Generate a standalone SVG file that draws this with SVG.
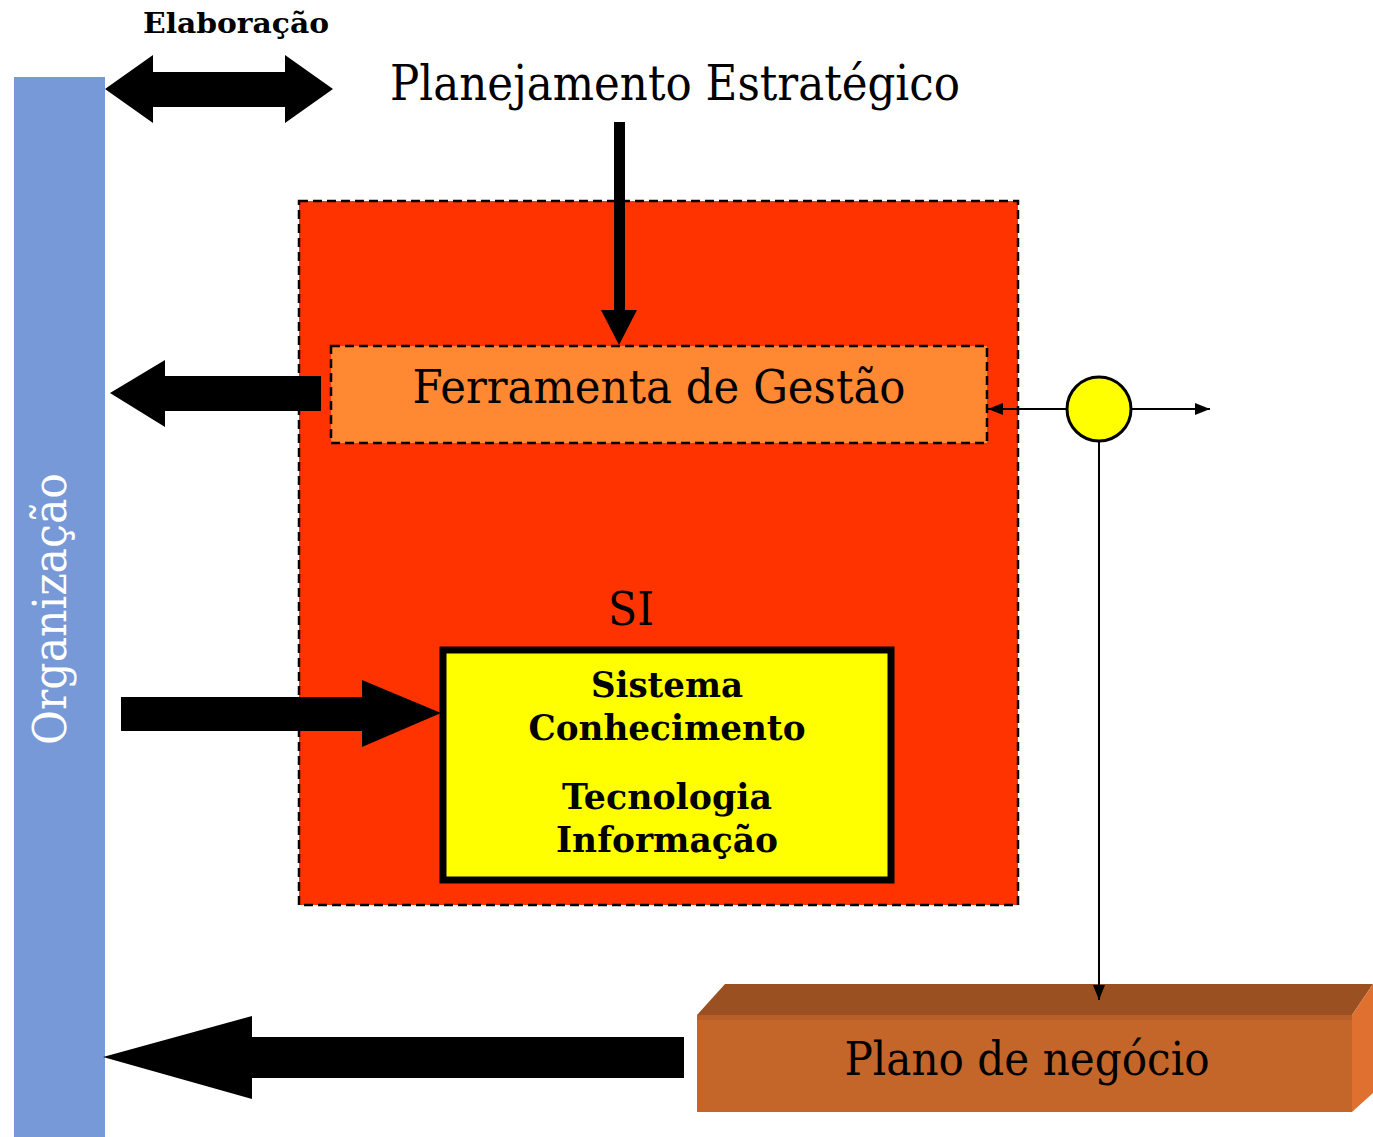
<svg xmlns="http://www.w3.org/2000/svg" width="1373" height="1137" viewBox="0 0 1373 1137">
<defs>
<style>
.t{font-family:"DejaVu Serif","Liberation Serif",serif;fill:#000}
.b{font-weight:bold}
.dash{stroke:#000;stroke-width:2.5;stroke-dasharray:9,5}
</style>
<marker id="ah2" viewBox="0 0 15 12" refX="15" refY="6" markerWidth="15" markerHeight="12" markerUnits="userSpaceOnUse" orient="auto">
<path d="M0,0 L15,6 L0,12 z" fill="#000"/>
</marker>
</defs>
<rect width="1373" height="1137" fill="#fff"/>

<g id="organizacao">
<rect x="14" y="77" width="91" height="1060" fill="#7799D8"/>
<text class="t" transform="translate(66,609) rotate(-90)" text-anchor="middle" font-size="46" style="fill:#fff" textLength="272" lengthAdjust="spacingAndGlyphs">Organização</text>
</g>

<g id="elaboracao">
<text class="t b" x="236" y="33" text-anchor="middle" font-size="27" textLength="186" lengthAdjust="spacingAndGlyphs">Elaboração</text>
</g>

<g id="planejamento">
<text class="t" x="675" y="100" text-anchor="middle" font-size="48" textLength="570" lengthAdjust="spacingAndGlyphs">Planejamento Estratégico</text>
</g>

<g id="si">
<rect x="299" y="201" width="719" height="704" fill="#FF3300" class="dash"/>
<text class="t" x="631" y="625" text-anchor="middle" font-size="46" textLength="46" lengthAdjust="spacingAndGlyphs">SI</text>
</g>

<g id="ferramenta">
<rect x="331" y="346" width="656" height="97" fill="#FF8833" class="dash"/>
<text class="t" x="659" y="403" text-anchor="middle" font-size="46" textLength="493" lengthAdjust="spacingAndGlyphs">Ferramenta de Gestão</text>
</g>

<g id="sistema">
<rect x="443" y="650" width="448" height="230" fill="#FFFF00" stroke="#000" stroke-width="7"/>
<text class="t b" x="667" y="697" text-anchor="middle" font-size="36" textLength="152" lengthAdjust="spacingAndGlyphs">Sistema</text>
<text class="t b" x="667" y="740" text-anchor="middle" font-size="36" textLength="277" lengthAdjust="spacingAndGlyphs">Conhecimento</text>
<text class="t b" x="667" y="809" text-anchor="middle" font-size="36" textLength="210" lengthAdjust="spacingAndGlyphs">Tecnologia</text>
<text class="t b" x="667" y="852" text-anchor="middle" font-size="36" textLength="222" lengthAdjust="spacingAndGlyphs">Informação</text>
</g>

<g id="juncao">
<circle cx="1099" cy="409" r="32" fill="#FFFF00" stroke="#000" stroke-width="3"/>
</g>

<g id="plano">
<polygon points="697,1015 725,984 1373,984 1352,1015" fill="#9A5020"/>
<polygon points="1352,1015 1373,984 1373,1093 1352,1112" fill="#E07030"/>
<rect x="697" y="1015" width="655" height="97" fill="#C4662A"/>
<rect x="697" y="1015" width="655" height="5" fill="#B85E26"/>
<text class="t" x="1027" y="1075" text-anchor="middle" font-size="46" textLength="365" lengthAdjust="spacingAndGlyphs">Plano de negócio</text>
</g>

<g id="connectors" fill="#000">
<polygon points="105,89 153,55 153,72 285,72 285,55 333,89 285,123 285,107 153,107 153,123"/>
<polygon points="614,122 625,122 625,310 637,310 619,345 601,310 614,310"/>
<polygon points="110,393 165,360 165,376 321,376 321,411 165,411 165,427"/>
<polygon points="121,697 362,697 362,680 441,713 362,747 362,731 121,731"/>
<polygon points="103,1057 252,1016 252,1037 684,1037 684,1078 252,1078 252,1099"/>
<line x1="1067" y1="409" x2="988" y2="409" stroke="#000" stroke-width="2" marker-end="url(#ah2)"/>
<line x1="1131" y1="409" x2="1210" y2="409" stroke="#000" stroke-width="2" marker-end="url(#ah2)"/>
<line x1="1099" y1="441" x2="1099" y2="1000" stroke="#000" stroke-width="2" marker-end="url(#ah2)"/>
</g>
</svg>
